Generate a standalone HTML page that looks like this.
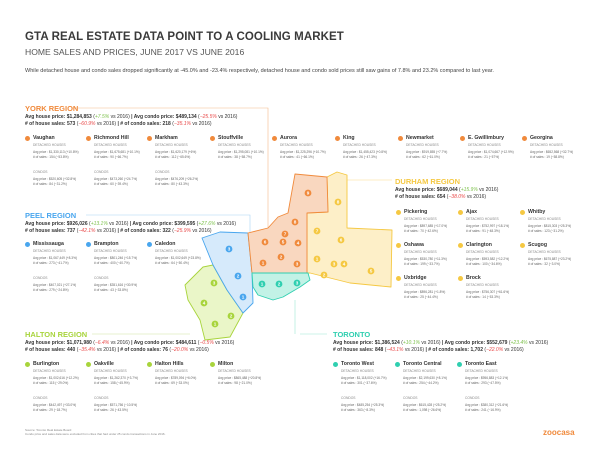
<!DOCTYPE html><html><head><meta charset="utf-8"><style>
*{margin:0;padding:0;box-sizing:border-box}
body{width:600px;height:452px;background:#fff;position:relative;overflow:hidden;font-family:"Liberation Sans",sans-serif;color:#333}
.a{position:absolute;white-space:nowrap}
.t{font-size:11.5px;font-weight:bold;color:#3a3a3a;letter-spacing:.1px}
.st{font-size:8.6px;color:#555}
.d{font-size:5.5px;color:#444}
.h{font-size:7.5px;font-weight:bold}
.s{font-size:5px;font-weight:bold;color:#333;line-height:7px}
.s span{font-weight:normal}
.g{color:#7cc04a}.r{color:#e84848}
.c{position:absolute;white-space:nowrap}
.c b{display:block;font-size:5.2px;color:#333;line-height:6px}
.c i{font-style:normal;display:block;font-size:3.3px;color:#888;margin:2px 0 3px}
.c p{font-size:3.2px;color:#666;line-height:5px}
.dot{position:absolute;width:5px;height:5px;border-radius:50%}
.cn{position:absolute;white-space:nowrap}
.cn i{font-style:normal;display:block;font-size:3.3px;color:#888;margin-bottom:3px}
.cn p{font-size:3.2px;color:#666;line-height:5px}
</style></head><body>
<div class="a t" style="left:25px;top:31px">GTA REAL ESTATE DATA POINT TO A COOLING MARKET</div>
<div class="a st" style="left:25px;top:47px">HOME SALES AND PRICES, JUNE 2017 VS JUNE 2016</div>
<div class="a d" style="left:25px;top:68px">While detached house and condo sales dropped significantly at -45.0% and -23.4% respectively, detached house and condo sold prices still saw gains of 7.8% and 23.2% compared to last year.</div>

<svg class="a" style="left:0;top:0" width="600" height="452">
<g fill="none" stroke-width=".6">
<polyline points="72,108 268,108 268,230" stroke="#f6b98a"/>
<polyline points="86,215 250,215 250,234" stroke="#a8d2f5"/>
<polyline points="92,334 190,334" stroke="#cfe6a0"/>
<polyline points="300,334 327,334" stroke="#9ee8d6"/>
<polyline points="295,300 295,334" stroke="#9ee8d6"/>
<polyline points="347,180 392,180" stroke="#f9dd8a"/>
</g>
<g stroke-width=".9" stroke-linejoin="round">
<polygon points="185,285 203,267 213,265 227,290 243,313 230,337 205,340 200,320 188,300" fill="#eaf6c8" stroke="#a8d43c"/>
<polygon points="202,238 220,232 248,233 252,273 253,303 243,313 227,290 213,265" fill="#d6eafb" stroke="#49a6ee"/>
<polygon points="307,213 328,212 327,177 337,172 347,175 347,228 392,230 391,287 350,283 310,273 307,273" fill="#fdefc8" stroke="#f5c842"/>
<polygon points="248,233 268,228 278,217 288,213 295,174 327,177 328,212 307,213 307,273 252,273" fill="#f9d7bf" stroke="#f08a3c"/>
<polygon points="252,273 308,273 310,280 300,287 283,297 273,300 258,295 253,287" fill="#c2f2e6" stroke="#2fcfb0"/>
</g>
<g fill="#f08a3c"><circle cx="308" cy="193" r="3.4"/><circle cx="295" cy="222" r="3.4"/><circle cx="285" cy="234" r="3.4"/><circle cx="265" cy="242" r="3.4"/><circle cx="283" cy="242" r="3.4"/><circle cx="298" cy="243" r="3.4"/><circle cx="263" cy="263" r="3.4"/><circle cx="281" cy="257" r="3.4"/><circle cx="297" cy="264" r="3.4"/></g>
<g fill="#f5c842"><circle cx="338" cy="202" r="3.4"/><circle cx="317" cy="231" r="3.4"/><circle cx="341" cy="240" r="3.4"/><circle cx="317" cy="259" r="3.4"/><circle cx="324" cy="275" r="3.4"/><circle cx="334" cy="264" r="3.4"/><circle cx="344" cy="264" r="3.4"/><circle cx="371" cy="271" r="3.4"/></g>
<g fill="#2fcfb0"><circle cx="262" cy="284" r="3.4"/><circle cx="279" cy="284" r="3.4"/><circle cx="297" cy="283" r="3.4"/></g>
<g fill="#49a6ee"><circle cx="229" cy="249" r="3.4"/><circle cx="238" cy="276" r="3.4"/><circle cx="243" cy="297" r="3.4"/></g>
<g fill="#a8d43c"><circle cx="214" cy="283" r="3.4"/><circle cx="204" cy="303" r="3.4"/><circle cx="231" cy="316" r="3.4"/><circle cx="215" cy="324" r="3.4"/></g>
<g font-size="4.6" font-family="Liberation Sans" font-weight="bold" fill="#fff" text-anchor="middle">
<text x="308" y="194.6">9</text><text x="295" y="223.6">8</text><text x="285" y="235.6">7</text><text x="265" y="243.6">6</text><text x="283" y="243.6">5</text><text x="298" y="244.6">4</text><text x="263" y="264.6">1</text><text x="281" y="258.6">2</text><text x="297" y="265.6">3</text>
<text x="338" y="203.6">8</text><text x="317" y="232.6">7</text><text x="341" y="241.6">6</text><text x="317" y="260.6">1</text><text x="324" y="276.6">2</text><text x="334" y="265.6">3</text><text x="344" y="265.6">4</text><text x="371" y="272.6">5</text>
<text x="262" y="285.6">1</text><text x="279" y="285.6">2</text><text x="297" y="284.6">3</text>
<text x="229" y="250.6">3</text><text x="238" y="277.6">2</text><text x="243" y="298.6">1</text>
<text x="214" y="284.6">3</text><text x="204" y="304.6">4</text><text x="231" y="317.6">2</text><text x="215" y="325.6">1</text>
</g>
</svg>

<!-- YORK -->
<div class="a h" style="left:25px;top:104px;color:#f08a3c">YORK REGION</div>
<div class="a s" style="left:25px;top:114px">Avg house price: $1,284,853 <span>(<em class="g">+7.5%</em> vs 2016)</span> | Avg condo price: $489,134 <span>(<em class="r">−25.5%</em> vs 2016)</span><br># of house sales: 573 <span>(<em class="r">−60.9%</em> vs 2016)</span> | # of condo sales: 218 <span>(<em class="r">−35.1%</em> vs 2016)</span></div>

<div class="dot" style="left:25px;top:136px;background:#f08a3c"></div><div class="c" style="left:33px;top:135px"><b>Vaughan</b><i>DETACHED HOUSES</i><p>Avg price : $1,330,113 (+10.8%)<br># of sales : 154 (−53.8%)</p></div>
<div class="dot" style="left:86px;top:136px;background:#f08a3c"></div><div class="c" style="left:94px;top:135px"><b>Richmond Hill</b><i>DETACHED HOUSES</i><p>Avg price : $1,675,681 (+10.1%)<br># of sales : 90 (−66.7%)</p></div>
<div class="dot" style="left:147px;top:136px;background:#f08a3c"></div><div class="c" style="left:155px;top:135px"><b>Markham</b><i>DETACHED HOUSES</i><p>Avg price : $1,620,179 (+6%)<br># of sales : 112 (−65.6%)</p></div>
<div class="dot" style="left:210px;top:136px;background:#f08a3c"></div><div class="c" style="left:218px;top:135px"><b>Stouffville</b><i>DETACHED HOUSES</i><p>Avg price : $1,295,081 (+10.1%)<br># of sales : 38 (−58.7%)</p></div>
<div class="dot" style="left:272px;top:136px;background:#f08a3c"></div><div class="c" style="left:280px;top:135px"><b>Aurora</b><i>DETACHED HOUSES</i><p>Avg price : $1,225,296 (+10.7%)<br># of sales : 41 (−66.1%)</p></div>
<div class="dot" style="left:335px;top:136px;background:#f08a3c"></div><div class="c" style="left:343px;top:135px"><b>King</b><i>DETACHED HOUSES</i><p>Avg price : $1,455,423 (+0.8%)<br># of sales : 26 (−47.3%)</p></div>
<div class="dot" style="left:398px;top:136px;background:#f08a3c"></div><div class="c" style="left:406px;top:135px"><b>Newmarket</b><i>DETACHED HOUSES</i><p>Avg price : $919,855 (+7.7%)<br># of sales : 62 (−61.0%)</p></div>
<div class="dot" style="left:460px;top:136px;background:#f08a3c"></div><div class="c" style="left:468px;top:135px"><b>E. Gwillimbury</b><i>DETACHED HOUSES</i><p>Avg price : $1,074,667 (+12.9%)<br># of sales : 21 (−57%)</p></div>
<div class="dot" style="left:522px;top:136px;background:#f08a3c"></div><div class="c" style="left:530px;top:135px"><b>Georgina</b><i>DETACHED HOUSES</i><p>Avg price : $652,568 (+32.7%)<br># of sales : 19 (−58.8%)</p></div>
<div class="cn" style="left:33px;top:170px"><i>CONDOS</i><p>Avg price : $520,605 (+32.8%)<br># of sales : 84 (−31.2%)</p></div>
<div class="cn" style="left:94px;top:170px"><i>CONDOS</i><p>Avg price : $473,260 (+24.7%)<br># of sales : 60 (−39.4%)</p></div>
<div class="cn" style="left:155px;top:170px"><i>CONDOS</i><p>Avg price : $476,209 (+26.2%)<br># of sales : 80 (−43.3%)</p></div>

<!-- PEEL -->
<div class="a h" style="left:25px;top:211px;color:#49a6ee">PEEL REGION</div>
<div class="a s" style="left:25px;top:221px">Avg house price: $926,026 <span>(<em class="g">+13.1%</em> vs 2016)</span> | Avg condo price: $399,595 <span>(<em class="g">+27.6%</em> vs 2016)</span><br># of house sales: 737 <span>(<em class="r">−42.1%</em> vs 2016)</span> | # of condo sales: 322 <span>(<em class="r">−25.9%</em> vs 2016)</span></div>
<div class="dot" style="left:25px;top:242px;background:#49a6ee"></div><div class="c" style="left:33px;top:241px"><b>Mississauga</b><i>DETACHED HOUSES</i><p>Avg price : $1,067,449 (+8.3%)<br># of sales : 273 (−41.7%)</p></div>
<div class="dot" style="left:86px;top:242px;background:#49a6ee"></div><div class="c" style="left:94px;top:241px"><b>Brampton</b><i>DETACHED HOUSES</i><p>Avg price : $801,246 (+15.7%)<br># of sales : 400 (−40.7%)</p></div>
<div class="dot" style="left:147px;top:242px;background:#49a6ee"></div><div class="c" style="left:155px;top:241px"><b>Caledon</b><i>DETACHED HOUSES</i><p>Avg price : $1,002,649 (+23.8%)<br># of sales : 64 (−50.4%)</p></div>
<div class="cn" style="left:33px;top:276px"><i>CONDOS</i><p>Avg price : $407,021 (+27.1%)<br># of sales : 279 (−24.8%)</p></div>
<div class="cn" style="left:94px;top:276px"><i>CONDOS</i><p>Avg price : $351,616 (+30.9%)<br># of sales : 43 (−33.8%)</p></div>

<!-- HALTON -->
<div class="a h" style="left:25px;top:330px;color:#a8d43c">HALTON REGION</div>
<div class="a s" style="left:25px;top:340px">Avg house price: $1,071,980 <span>(<em class="r">−6.4%</em> vs 2016)</span> | Avg condo price: $484,611 <span>(<em class="r">−0.5%</em> vs 2016)</span><br># of house sales: 440 <span>(<em class="r">−35.4%</em> vs 2016)</span> | # of condo sales: 76 <span>(<em class="r">−20.0%</em> vs 2016)</span></div>
<div class="dot" style="left:25px;top:362px;background:#a8d43c"></div><div class="c" style="left:33px;top:361px"><b>Burlington</b><i>DETACHED HOUSES</i><p>Avg price : $1,002,616 (+12.2%)<br># of sales : 115 (−29.0%)</p></div>
<div class="dot" style="left:86px;top:362px;background:#a8d43c"></div><div class="c" style="left:94px;top:361px"><b>Oakville</b><i>DETACHED HOUSES</i><p>Avg price : $1,262,370 (+3.7%)<br># of sales : 158 (−45.9%)</p></div>
<div class="dot" style="left:147px;top:362px;background:#a8d43c"></div><div class="c" style="left:155px;top:361px"><b>Halton Hills</b><i>DETACHED HOUSES</i><p>Avg price : $789,094 (+6.0%)<br># of sales : 69 (−33.0%)</p></div>
<div class="dot" style="left:210px;top:362px;background:#a8d43c"></div><div class="c" style="left:218px;top:361px"><b>Milton</b><i>DETACHED HOUSES</i><p>Avg price : $865,488 (+20.8%)<br># of sales : 98 (−21.0%)</p></div>
<div class="cn" style="left:33px;top:396px"><i>CONDOS</i><p>Avg price : $442,497 (+33.0%)<br># of sales : 29 (−18.7%)</p></div>
<div class="cn" style="left:94px;top:396px"><i>CONDOS</i><p>Avg price : $571,756 (−10.5%)<br># of sales : 26 (−43.5%)</p></div>
<div class="a" style="left:25px;top:428px;font-size:3px;color:#888;line-height:4px">Source: Toronto Real Estate Board<br>Condo price and sales data were excluded from cities that had under 25 condo transactions in June 2016.</div>

<!-- TORONTO -->
<div class="a h" style="left:333px;top:330px;color:#2fcfb0">TORONTO</div>
<div class="a s" style="left:333px;top:340px">Avg house price: $1,386,524 <span>(<em class="g">+10.1%</em> vs 2016)</span> | Avg condo price: $552,679 <span>(<em class="g">+23.4%</em> vs 2016)</span><br># of house sales: 848 <span>(<em class="r">−43.1%</em> vs 2016)</span> | # of condo sales: 1,702 <span>(<em class="r">−22.0%</em> vs 2016)</span></div>
<div class="dot" style="left:333px;top:362px;background:#2fcfb0"></div><div class="c" style="left:341px;top:361px"><b>Toronto West</b><i>DETACHED HOUSES</i><p>Avg price : $1,118,002 (+16.7%)<br># of sales : 301 (−37.6%)</p></div>
<div class="dot" style="left:395px;top:362px;background:#2fcfb0"></div><div class="c" style="left:403px;top:361px"><b>Toronto Central</b><i>DETACHED HOUSES</i><p>Avg price : $2,199,630 (+8.1%)<br># of sales : 254 (−44.2%)</p></div>
<div class="dot" style="left:457px;top:362px;background:#2fcfb0"></div><div class="c" style="left:465px;top:361px"><b>Toronto East</b><i>DETACHED HOUSES</i><p>Avg price : $956,883 (+12.1%)<br># of sales : 293 (−47.5%)</p></div>
<div class="cn" style="left:341px;top:396px"><i>CONDOS</i><p>Avg price : $485,254 (+25.3%)<br># of sales : 363 (−8.3%)</p></div>
<div class="cn" style="left:403px;top:396px"><i>CONDOS</i><p>Avg price : $615,428 (+25.2%)<br># of sales : 1,098 (−26.6%)</p></div>
<div class="cn" style="left:465px;top:396px"><i>CONDOS</i><p>Avg price : $380,312 (+21.6%)<br># of sales : 241 (−16.9%)</p></div>
<div class="a" style="left:543px;top:428px;font-size:8px;font-weight:bold;color:#f08a3c">zoocasa</div>

<!-- DURHAM -->
<div class="a h" style="left:395px;top:177px;color:#f5c842">DURHAM REGION</div>
<div class="a s" style="left:395px;top:187px">Avg house price: $689,044 <span>(<em class="g">+15.9%</em> vs 2016)</span><br># of house sales: 654 <span>(<em class="r">−38.0%</em> vs 2016)</span></div>
<div class="dot" style="left:396px;top:210px;background:#f5c842"></div><div class="c" style="left:404px;top:209px"><b>Pickering</b><i>DETACHED HOUSES</i><p>Avg price : $897,685 (+17.0%)<br># of sales : 70 (−42.6%)</p></div>
<div class="dot" style="left:458px;top:210px;background:#f5c842"></div><div class="c" style="left:466px;top:209px"><b>Ajax</b><i>DETACHED HOUSES</i><p>Avg price : $752,997 (+18.1%)<br># of sales : 91 (−48.3%)</p></div>
<div class="dot" style="left:520px;top:210px;background:#f5c842"></div><div class="c" style="left:528px;top:209px"><b>Whitby</b><i>DETACHED HOUSES</i><p>Avg price : $815,303 (+25.3%)<br># of sales : 123 (−31.2%)</p></div>
<div class="dot" style="left:396px;top:243px;background:#f5c842"></div><div class="c" style="left:404px;top:242px"><b>Oshawa</b><i>DETACHED HOUSES</i><p>Avg price : $530,780 (+11.3%)<br># of sales : 199 (−33.7%)</p></div>
<div class="dot" style="left:458px;top:243px;background:#f5c842"></div><div class="c" style="left:466px;top:242px"><b>Clarington</b><i>DETACHED HOUSES</i><p>Avg price : $593,582 (+12.2%)<br># of sales : 100 (−34.6%)</p></div>
<div class="dot" style="left:520px;top:243px;background:#f5c842"></div><div class="c" style="left:528px;top:242px"><b>Scugog</b><i>DETACHED HOUSES</i><p>Avg price : $675,887 (+23.2%)<br># of sales : 32 (−3.0%)</p></div>
<div class="dot" style="left:396px;top:276px;background:#f5c842"></div><div class="c" style="left:404px;top:275px"><b>Uxbridge</b><i>DETACHED HOUSES</i><p>Avg price : $896,281 (+1.8%)<br># of sales : 25 (−44.4%)</p></div>
<div class="dot" style="left:458px;top:276px;background:#f5c842"></div><div class="c" style="left:466px;top:275px"><b>Brock</b><i>DETACHED HOUSES</i><p>Avg price : $756,307 (+61.6%)<br># of sales : 14 (−53.3%)</p></div>
</body></html>
